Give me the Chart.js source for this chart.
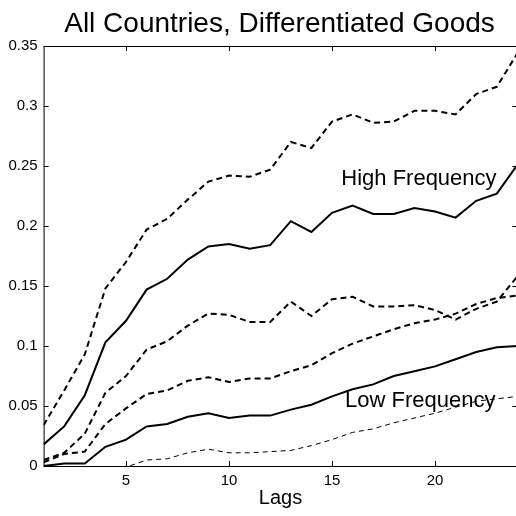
<!DOCTYPE html>
<html>
<head>
<meta charset="utf-8">
<script src="https://cdn.jsdelivr.net/npm/chart.js@4"></script>
<style>
  html, body { margin: 0; padding: 0; background: #fff; overflow: hidden; }
  #wrap { width: 522px; height: 516px; }
</style>
</head>
<body>
<div id="wrap"><canvas id="c"></canvas></div>
<script>
// lags 1..24
const lags = [1,2,3,4,5,6,7,8,9,10,11,12,13,14,15,16,17,18,19,20,21,22,23,24];
const xTicks = [5, 10, 15, 20];
const yTicks = [0, 0.05, 0.1, 0.15, 0.2, 0.25, 0.3, 0.35];

// high frequency: estimate + bands
const highUp  = [0.034,0.063,0.093,0.148,0.170,0.197,0.206,0.222,0.237,0.242,0.241,0.247,0.270,0.265,0.287,0.293,0.286,0.287,0.296,0.296,0.293,0.310,0.316,0.344];
const highMid = [0.018,0.033,0.059,0.103,0.121,0.147,0.156,0.172,0.183,0.185,0.181,0.184,0.204,0.195,0.211,0.217,0.210,0.210,0.215,0.212,0.207,0.221,0.227,0.251];
const highLow = [0.005,0.011,0.027,0.061,0.075,0.097,0.104,0.117,0.127,0.126,0.120,0.120,0.137,0.125,0.139,0.141,0.133,0.133,0.134,0.130,0.122,0.131,0.137,0.158];

// low frequency: estimate + bands
const lowUp  = [0.003,0.010,0.012,0.035,0.048,0.060,0.063,0.071,0.074,0.070,0.073,0.073,0.079,0.084,0.094,0.102,0.108,0.114,0.119,0.122,0.127,0.135,0.140,0.142];
const lowMid = [0.000,0.002,0.002,0.016,0.022,0.033,0.035,0.041,0.044,0.040,0.042,0.042,0.047,0.051,0.058,0.064,0.068,0.075,0.079,0.083,0.089,0.095,0.099,0.100];
const lowLow = [-0.020,-0.016,-0.012,-0.007,-0.001,0.005,0.006,0.011,0.014,0.011,0.011,0.012,0.013,0.017,0.022,0.028,0.031,0.036,0.040,0.044,0.049,0.054,0.056,0.058];

const FONT = '"Liberation Sans", Arial, Helvetica, sans-serif';

function ds(data, dash, w) {
    return { data: data, borderColor: '#000', borderWidth: w || 2, borderDash: dash || [],
             pointRadius: 0, fill: false, tension: 0 };
}

// frame, inward ticks, title and text labels (matlab look)
const deco = {
    id: 'deco',
    afterDatasetsDraw(chart) {
        const ctx = chart.ctx, a = chart.chartArea;
        const xs = chart.scales.x, ys = chart.scales.y;
        ctx.save();
        ctx.strokeStyle = '#000';
        ctx.lineWidth = 1;
        ctx.strokeRect(a.left + 0.5, a.top + 0.5, a.right - a.left, a.bottom - a.top);
        ctx.beginPath();
        xTicks.forEach(v => {
            const px = Math.round(xs.getPixelForValue(v)) + 0.5;
            ctx.moveTo(px, a.bottom); ctx.lineTo(px, a.bottom - 5);
            ctx.moveTo(px, a.top); ctx.lineTo(px, a.top + 5);
        });
        yTicks.forEach(v => {
            const py = Math.round(ys.getPixelForValue(v)) + 0.5;
            ctx.moveTo(a.left, py); ctx.lineTo(a.left + 5, py);
            ctx.moveTo(a.right, py); ctx.lineTo(a.right - 5, py);
        });
        ctx.stroke();

        ctx.fillStyle = '#000';
        ctx.font = '28px ' + FONT;
        ctx.textAlign = 'center';
        ctx.textBaseline = 'alphabetic';
        ctx.fillText('All Countries, Differentiated Goods', (a.left + a.right) / 2 - 1, a.top - 14);

        ctx.font = '22px ' + FONT;
        ctx.textAlign = 'left';
        ctx.fillText('High Frequency', xs.getPixelForValue(15.45), ys.getPixelForValue(0.234));
        ctx.fillText('Low Frequency', xs.getPixelForValue(15.63), ys.getPixelForValue(0.049));
        ctx.restore();
    }
};

new Chart(document.getElementById('c'), {
    type: 'line',
    data: {
        labels: lags,
        datasets: [
            ds(highUp, [6, 4]), ds(highMid), ds(highLow, [6, 4]),
            ds(lowUp, [6, 4]), ds(lowMid), ds(lowLow, [5, 4], 1)
        ]
    },
    options: {
        responsive: true, maintainAspectRatio: false, animation: false,
        layout: { padding: { top: 46, right: 4.6, left: 0, bottom: 0 } },
        plugins: { legend: { display: false }, tooltip: { enabled: false } },
        scales: {
            x: {
                type: 'linear', min: 1, max: 24,
                afterBuildTicks: s => { s.ticks = xTicks.map(v => ({ value: v })); },
                afterFit: s => { s.height = 50; },
                grid: { display: false, drawTicks: false }, border: { display: false },
                ticks: { color: '#000', font: { family: FONT, size: 15 }, padding: 6 },
                title: { display: true, text: 'Lags', color: '#000', font: { family: FONT, size: 20 }, padding: { top: 0, bottom: 6 } }
            },
            y: {
                min: 0, max: 0.35,
                afterBuildTicks: s => { s.ticks = yTicks.map(v => ({ value: v })); },
                afterFit: s => { s.width = 43.6; },
                grid: { display: false, drawTicks: false }, border: { display: false },
                ticks: { color: '#000', font: { family: FONT, size: 15 }, padding: 6,
                         callback: v => String(Number(v.toFixed(2))) }
            }
        }
    },
    plugins: [deco]
});
</script>
</body>
</html>
